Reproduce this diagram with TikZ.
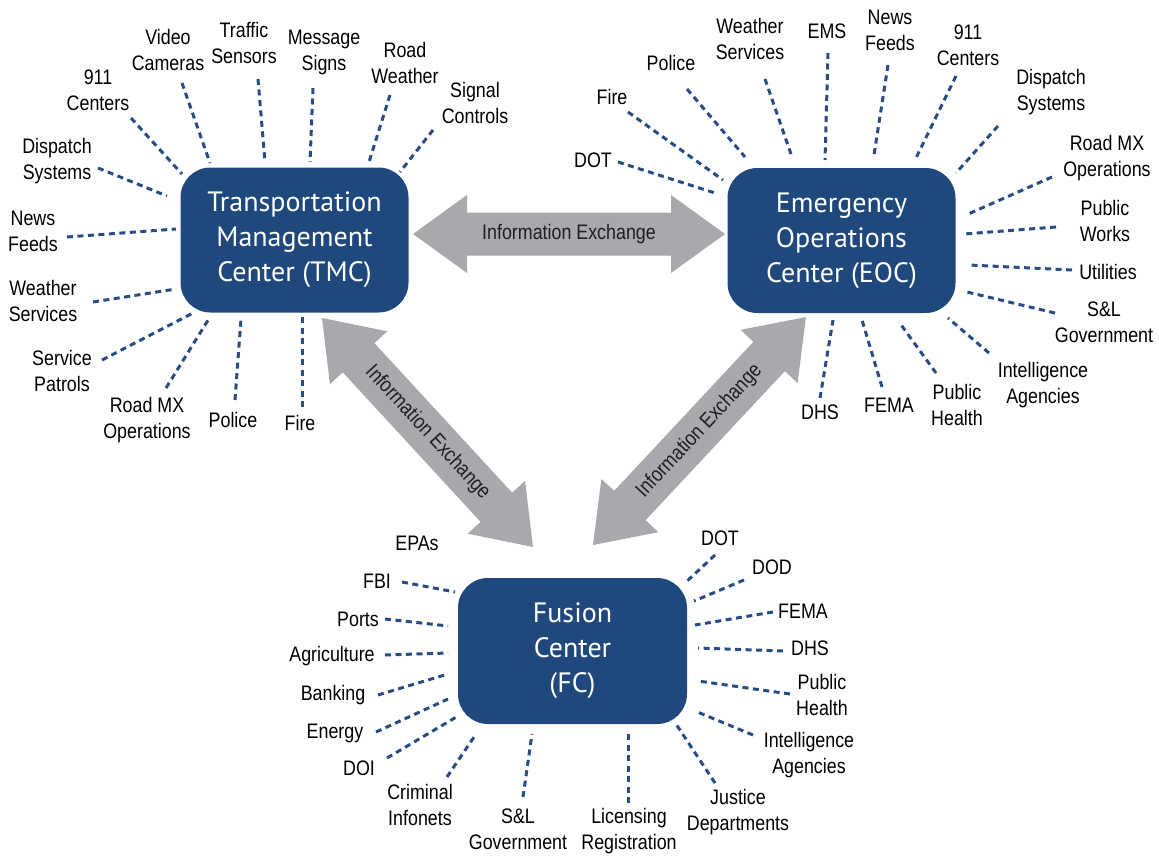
\documentclass[tikz,border=0pt]{standalone}
\usepackage{fontspec}
\setmainfont{Liberation Sans}
\newfontfamily\labfont[FakeStretch=0.85]{Liberation Sans}
\newfontfamily\boxfont{PT Sans}
\usetikzlibrary{calc}
\definecolor{boxblue}{RGB}{31,73,125}
\definecolor{dashblue}{RGB}{40,76,132}
\definecolor{arrowgray}{RGB}{167,169,172}
\newcommand\infoarrow[4]{%
  \path let \p1=(#1), \p2=(#2), \n1={atan2(\y2-\y1,\x2-\x1)}, \n2={veclen(\x2-\x1,\y2-\y1)} in
    \pgfextra{\xdef\arrang{\n1}\xdef\arrlen{\n2}};
  \begin{scope}[shift={(#1)}, rotate=\arrang]
    \fill[xarrow] (0,0) -- (54,39) -- (54,21.5) -- (\arrlen-54,21.5) -- (\arrlen-54,39)
      -- (\arrlen,0) -- (\arrlen-54,-39) -- (\arrlen-54,-21.5) -- (54,-21.5) -- (54,-39) -- cycle;
  \end{scope}
  \node[xlab, rotate=#4] at ($(#1)!0.5!(#2)$) {#3};
}
\begin{document}
\begin{tikzpicture}[x=1pt,y=-1pt,
  center/.style={fill=boxblue, rounded corners=30pt, minimum width=228pt, minimum height=145pt,
    text=white, align=center, font=\boxfont\fontsize{28}{35}\selectfont, inner sep=0pt},
  lab/.style={align=center, font=\labfont\fontsize{21}{26}\selectfont, inner sep=0pt, text=black},
  spoke/.style={draw=dashblue, line width=3pt, dash pattern=on 6pt off 4.5pt},
  xarrow/.style={fill=arrowgray},
  xlab/.style={font=\labfont\fontsize{21}{26}\selectfont, text=black!88, inner sep=0pt}
]
\useasboundingbox (0,0) rectangle (1159,856);

% gray information exchange arrows
\coordinate (h1) at (413,234);
\coordinate (h2) at (725,234);
\coordinate (l1) at (322,318);
\coordinate (l2) at (533,547);
\coordinate (r1) at (593,545);
\coordinate (r2) at (806,317);
\infoarrow{h1}{h2}{Information Exchange}{0}
\infoarrow{l1}{l2}{Information Exchange}{-47.3}
\infoarrow{r1}{r2}{Information Exchange}{47}

% centers
\node[center] (tmc) at (294.5,240) {Transportation\\Management\\Center (TMC)};
\node[center] (eoc) at (841.5,240.5) {Emergency\\Operations\\Center (EOC)};
\node[center, minimum height=146pt, minimum width=229pt] (fc) at (572.5,651) {Fusion\\Center\\(FC)};

% TMC stakeholders
\foreach \t/\p/\a/\b [count=\i] in {
  {Video\\Cameras}/{168,50}/{182,83}/{210,163},
  {Traffic\\Sensors}/{244,43}/{258,79}/{265,162},
  {Message\\Signs}/{324,52}/{313,88}/{310,162},
  {Road\\Weather}/{405,63}/{390,95}/{369,162},
  {Signal\\Controls}/{475,103}/{433,130}/{400,172},
  {911\\Centers}/{98,90}/{131,118}/{182,174},
  {Dispatch\\Systems}/{57,161}/{98,168}/{167,196},
  {News\\Feeds}/{33,231}/{67,237}/{176,229},
  {Weather\\Services}/{43,301}/{93,302}/{176,289},
  {Service\\Patrols}/{62,371}/{102,360}/{193,313},
  {Road MX\\Operations}/{147,420}/{166,388}/{210,317},
  {Police}/{233,420}/{235,400}/{241,319},
  {Fire}/{300,423}/{302,407}/{302,317}}
{
  \node[lab] (tl\i) at (\p) {\t};
  \coordinate (ts\i) at (\a);
  \coordinate (te\i) at (\b);
  \draw[spoke] (ts\i) -- (te\i);
}

% EOC stakeholders
\foreach \t/\p/\a/\b [count=\i] in {
  {DOT}/{593,160}/{618,162}/{715,193},
  {Fire}/{612,97}/{628,112}/{723,180},
  {Police}/{671,63}/{687,89}/{745,157},
  {Weather\\Services}/{750,39}/{765,79}/{792,157},
  {EMS}/{827,31}/{828,53}/{825,160},
  {News\\Feeds}/{890,30}/{888,65}/{874,155},
  {911\\Centers}/{968,45}/{956,76}/{915,160},
  {Dispatch\\Systems}/{1051,92}/{998,126}/{956,173},
  {Road MX\\Operations}/{1107,158}/{1052,177}/{966,215},
  {Public\\Works}/{1105,221}/{1056,227}/{964,234},
  {Utilities}/{1108,272}/{1072,270}/{969,265},
  {S\&L\\Government}/{1104,322}/{1055,313}/{967,292},
  {Intelligence\\Agencies}/{1043,385}/{989,353}/{948,318},
  {Public\\Health}/{957,405}/{936,373}/{899,322},
  {FEMA}/{889,405}/{882,387}/{862,320},
  {DHS}/{820,412}/{820,398}/{833,320}}
{
  \node[lab] (el\i) at (\p) {\t};
  \coordinate (es\i) at (\a);
  \coordinate (ee\i) at (\b);
  \draw[spoke] (es\i) -- (ee\i);
}

% FC stakeholders
\node[lab] (epas) at (417,543) {EPAs};
\foreach \t/\p/\a/\b [count=\i] in {
  {FBI}/{377,581}/{402,582}/{455,592},
  {Ports}/{358,619}/{385,619}/{448,626},
  {Agriculture}/{332,656}/{385,655}/{448,653},
  {Banking}/{333,695}/{378,695}/{448,674},
  {Energy}/{335,733}/{376,732}/{448,699},
  {DOI}/{359,768}/{387,758}/{458,716},
  {Criminal\\Infonets}/{420,805}/{447,777}/{476,734},
  {S\&L\\Government}/{518,829}/{523,797}/{532,734},
  {Licensing\\Registration}/{629,831}/{628,803}/{628,731},
  {Justice\\Departments}/{738,812}/{715,783}/{676,724},
  {DOT}/{720,538}/{715,555}/{685,583},
  {DOD}/{772,567}/{744,580}/{694,601},
  {FEMA}/{803,611}/{773,612}/{695,625},
  {DHS}/{810,648}/{783,651}/{698,648},
  {Public\\Health}/{822,695}/{790,694}/{698,681},
  {Intelligence\\Agencies}/{809,755}/{753,735}/{695,711}}
{
  \node[lab] (fl\i) at (\p) {\t};
  \coordinate (fs\i) at (\a);
  \coordinate (fe\i) at (\b);
  \draw[spoke] (fs\i) -- (fe\i);
}
\end{tikzpicture}
\end{document}
